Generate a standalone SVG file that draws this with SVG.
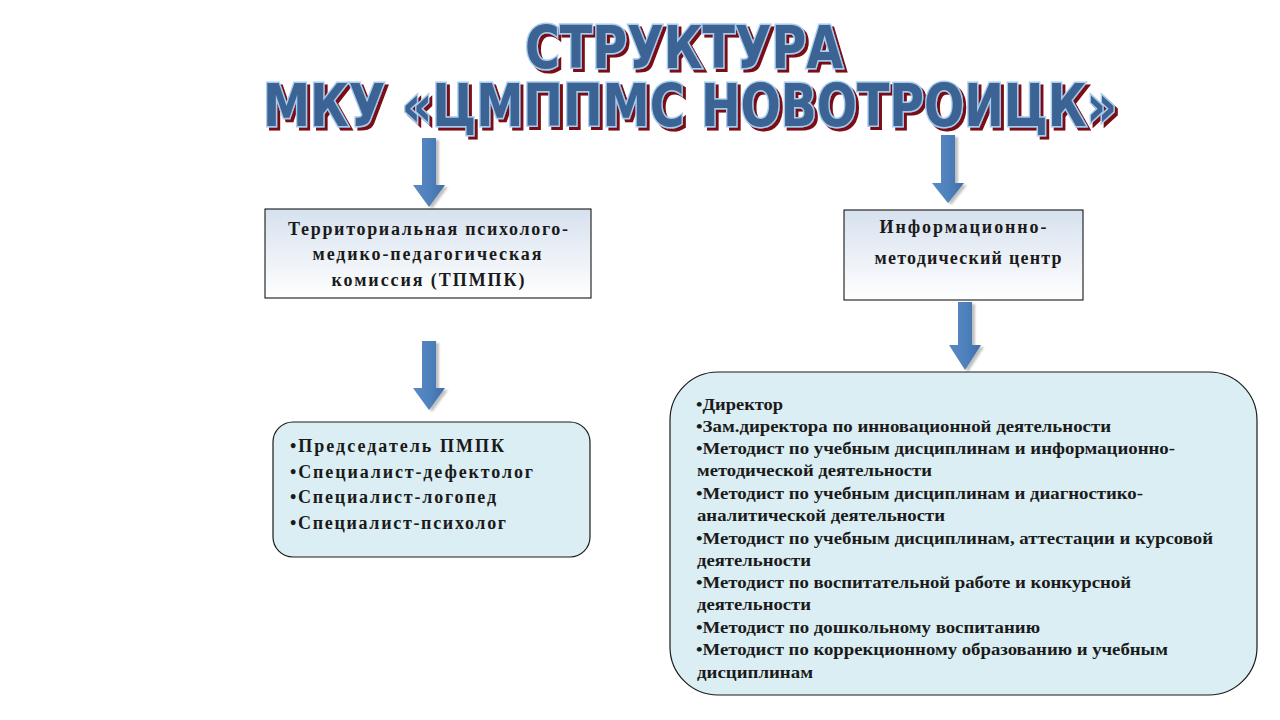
<svg xmlns="http://www.w3.org/2000/svg" width="1280" height="720" viewBox="0 0 1280 720">
<defs>
<linearGradient id="boxGrad" x1="0" y1="0" x2="0" y2="1">
<stop offset="0" stop-color="#d6e1ee"/>
<stop offset="1" stop-color="#ffffff"/>
</linearGradient>
<linearGradient id="arrGrad" x1="0" y1="0" x2="1" y2="0">
<stop offset="0" stop-color="#5a8ac6"/>
<stop offset="0.5" stop-color="#4f81bd"/>
<stop offset="1" stop-color="#3f6fa8"/>
</linearGradient>
<filter id="blur" x="-20%" y="-20%" width="140%" height="140%"><feGaussianBlur stdDeviation="1.2"/></filter>
<filter id="tshadow" x="-5%" y="-20%" width="110%" height="150%">
<feOffset in="SourceAlpha" dx="3" dy="3" result="off"/>
<feFlood flood-color="#7a0a12"/>
<feComposite in2="off" operator="in" result="sh"/>
<feMerge><feMergeNode in="sh"/><feMergeNode in="SourceGraphic"/></feMerge>
</filter>
</defs>
<style>
.title{font-family:"DejaVu Sans Condensed","DejaVu Sans","Liberation Sans",sans-serif;font-weight:bold;font-size:58px;text-anchor:middle;fill:#3a6493;stroke:#a9cbee;stroke-width:3;paint-order:stroke;filter:url(#tshadow)}
.hdr{font-family:"Liberation Serif","Times New Roman",serif;font-weight:bold;font-size:18px;fill:#1a1a1a;text-anchor:middle}
.item{font-family:"Liberation Serif","Times New Roman",serif;font-weight:bold;font-size:18px;fill:#1a1a1a}
.item2{font-family:"Liberation Serif","Times New Roman",serif;font-weight:bold;font-size:16.5px;fill:#1a1a1a}
.rbox{fill:url(#boxGrad);stroke:#000;stroke-width:1}
.cbox{fill:#daeef3;stroke:#1a1a1a;stroke-width:1.2}
.arrow{fill:url(#arrGrad)}
.ashadow{fill:#8c8c8c;opacity:0.55;filter:url(#blur)}
</style>
<rect width="1280" height="720" fill="#ffffff"/>

<g id="title">
<text class="title" x="684" y="68" textLength="318" lengthAdjust="spacingAndGlyphs">СТРУКТУРА</text>
<text class="title" x="690" y="126" textLength="854" lengthAdjust="spacingAndGlyphs">МКУ «ЦМППМС НОВОТРОИЦК»</text>
</g>

<g id="connectors">
<path class="ashadow" d="M425,140 H439 V187 H448 L432,209 L416,187 H425 Z"/>
<path class="arrow" d="M422,138 H436 V185 H445 L429,207 L413,185 H422 Z"/>
<path class="ashadow" d="M425,343 H439 V390 H448 L432,412 L416,390 H425 Z"/>
<path class="arrow" d="M422,341 H436 V388 H445 L429,410 L413,388 H422 Z"/>
<path class="ashadow" d="M944,137 H958 V185 H967 L951,205 L935,185 H944 Z"/>
<path class="arrow" d="M941,135 H955 V183 H964 L948,203 L932,183 H941 Z"/>
<path class="ashadow" d="M961,304 H975 V347 H984 L968,372 L952,347 H961 Z"/>
<path class="arrow" d="M958,302 H972 V345 H981 L965,370 L949,345 H958 Z"/>
</g>

<g id="tpmpk">
<rect class="rbox" x="265" y="209" width="326" height="89"/>
<text class="hdr" x="428" y="235" textLength="280" lengthAdjust="spacing">Территориальная психолого-</text>
<text class="hdr" x="427" y="260" textLength="229" lengthAdjust="spacing">медико-педагогическая</text>
<text class="hdr" x="428" y="286" textLength="193" lengthAdjust="spacing">комиссия (ТПМПК)</text>
</g>

<g id="imc">
<rect class="rbox" x="844" y="210" width="239" height="90"/>
<text class="hdr" x="963" y="233" textLength="167" lengthAdjust="spacing">Информационно-</text>
<text class="hdr" x="968" y="264" textLength="187" lengthAdjust="spacing">методический центр</text>
</g>

<g id="pmpk-staff">
<rect class="cbox" x="273" y="422" width="317" height="135" rx="20" ry="20"/>
<text class="item" x="290" y="452" textLength="214" lengthAdjust="spacing">•Председатель ПМПК</text>
<text class="item" x="290" y="478" textLength="243" lengthAdjust="spacing">•Специалист-дефектолог</text>
<text class="item" x="290" y="503" textLength="206" lengthAdjust="spacing">•Специалист-логопед</text>
<text class="item" x="290" y="529" textLength="216" lengthAdjust="spacing">•Специалист-психолог</text>
</g>

<g id="imc-staff">
<rect class="cbox" x="670" y="372" width="587" height="323" rx="48" ry="48"/>
<text class="item2" x="696" y="410" textLength="87" lengthAdjust="spacingAndGlyphs">•Директор</text>
<text class="item2" x="696" y="432" textLength="415" lengthAdjust="spacingAndGlyphs">•Зам.директора по инновационной деятельности</text>
<text class="item2" x="696" y="454" textLength="479" lengthAdjust="spacingAndGlyphs">•Методист по учебным дисциплинам и информационно-</text>
<text class="item2" x="697" y="476" textLength="235" lengthAdjust="spacingAndGlyphs">методической деятельности</text>
<text class="item2" x="696" y="499" textLength="447" lengthAdjust="spacingAndGlyphs">•Методист по учебным дисциплинам и диагностико-</text>
<text class="item2" x="697" y="521" textLength="248" lengthAdjust="spacingAndGlyphs">аналитической деятельности</text>
<text class="item2" x="696" y="544" textLength="517" lengthAdjust="spacingAndGlyphs">•Методист по учебным дисциплинам, аттестации и курсовой</text>
<text class="item2" x="697" y="566" textLength="114" lengthAdjust="spacingAndGlyphs">деятельности</text>
<text class="item2" x="696" y="588" textLength="435" lengthAdjust="spacingAndGlyphs">•Методист по воспитательной работе и конкурсной</text>
<text class="item2" x="697" y="610" textLength="114" lengthAdjust="spacingAndGlyphs">деятельности</text>
<text class="item2" x="696" y="633" textLength="344" lengthAdjust="spacingAndGlyphs">•Методист по дошкольному воспитанию</text>
<text class="item2" x="696" y="655" textLength="472" lengthAdjust="spacingAndGlyphs">•Методист по коррекционному образованию и учебным</text>
<text class="item2" x="697" y="678" textLength="116" lengthAdjust="spacingAndGlyphs">дисциплинам</text>
</g>
</svg>
